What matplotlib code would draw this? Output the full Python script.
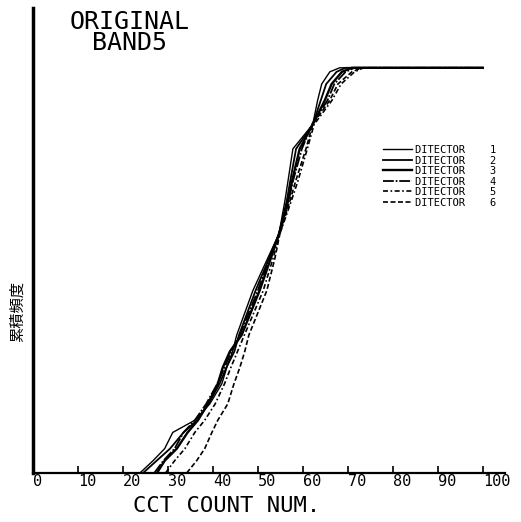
import matplotlib
matplotlib.use("Agg")
import matplotlib.pyplot as plt

# cumulative frequency levels (shared by all detectors)
levels = [0, 0.03, 0.06, 0.10, 0.13, 0.17, 0.22, 0.26, 0.30, 0.34, 0.45,
          0.53, 0.59, 0.67, 0.72, 0.80, 0.86, 0.92, 0.96, 0.99, 1.0, 1.0]

# CCT count value at each level, one list per detector
det1 = [23.8, 26.7, 29.3, 31.1, 36.0, 39.3, 42.0, 43.1, 44.4, 45.3, 48.9,
        52.2, 54.7, 56.0, 56.7, 57.8, 62.2, 63.3, 64.2, 66.0, 68.2, 100]
det2 = [24.5, 27.5, 30.5, 33.5, 36.5, 39.0, 41.5, 43.0, 44.8, 45.8, 49.5,
        52.5, 54.7, 56.4, 57.2, 58.5, 62.2, 64.0, 65.2, 67.5, 69.5, 100]
det3 = [27.6, 29.3, 32.0, 34.4, 36.7, 38.9, 41.1, 42.2, 43.8, 46.4, 50.4,
        52.9, 54.7, 56.7, 57.6, 59.3, 62.2, 64.9, 66.4, 68.7, 70.9, 100]
det4 = [27.0, 29.0, 31.5, 33.5, 36.0, 38.5, 41.0, 42.6, 44.2, 46.0, 50.0,
        52.6, 54.8, 56.8, 57.8, 59.8, 62.0, 65.5, 67.0, 69.5, 71.5, 100]
det5 = [29.5, 31.5, 33.8, 36.0, 38.2, 40.5, 42.6, 44.0, 45.5, 47.0, 51.2,
        53.4, 54.9, 57.4, 58.9, 61.0, 62.5, 66.5, 68.5, 71.5, 73.5, 100]
det6 = [34.2, 36.4, 38.2, 39.8, 41.1, 43.3, 44.7, 46.0, 47.1, 48.0, 52.0,
        53.8, 54.9, 57.1, 58.4, 60.7, 62.2, 66.0, 67.8, 70.9, 73.1, 100]

labels = ["DITECTOR    1", "DITECTOR    2", "DITECTOR    3",
          "DITECTOR    4", "DITECTOR    5", "DITECTOR    6"]
xticks = [0, 10, 20, 30, 40, 50, 60, 70, 80, 90, 100]

mono = "DejaVu Sans Mono"

fig = plt.figure(figsize=(5.21, 5.22), dpi=100)
ax = fig.add_axes([0.063, 0.094, 0.906, 0.891])

styles = [
    dict(ls="-", lw=1.0),
    dict(ls="-", lw=1.3),
    dict(ls="-", lw=1.7),
    dict(ls=(0, (6, 1, 1, 1)), lw=1.3),
    dict(ls=(0, (3, 1.5, 1, 1.5)), lw=1.2),
    dict(ls=(0, (3, 1.5)), lw=1.2),
]
for xs, lab, st in zip([det1, det2, det3, det4, det5, det6], labels, styles):
    ax.plot(xs, levels, color="black", label=lab, **st)

ax.set_xlim(0, 104.9)
ax.set_ylim(0, 1.148)
ax.set_xticks(xticks)
ax.set_xticklabels([str(t) for t in xticks], family=mono, fontsize=11)
for lbl in ax.get_xticklabels():
    lbl.set_ha("left")
ax.tick_params(axis="x", direction="in", length=5, width=1.2, pad=1)
ax.set_yticks([])
ax.spines["top"].set_visible(False)
ax.spines["right"].set_visible(False)
ax.spines["left"].set_linewidth(2.5)
ax.spines["bottom"].set_linewidth(1.6)

ax.legend(loc="upper left", bbox_to_anchor=(0.742, 0.705), frameon=False,
          prop={"family": mono, "size": 7.5}, handlelength=2.8,
          handletextpad=0.3, labelspacing=0.05, borderpad=0, borderaxespad=0)

fig.text(130 / 521, 1 - 10 / 522, "ORIGINAL\nBAND5", ha="center", va="top",
         family=mono, fontsize=18, linespacing=0.85)
fig.text(227 / 521, 1 - 506 / 522, "CCT COUNT NUM.", ha="center", va="center",
         family=mono, fontsize=16)
fig.text(17 / 521, 1 - 312 / 522, "累積頻度", rotation=90, ha="center",
         va="center", family=["Noto Sans CJK JP", "DejaVu Sans"], fontsize=11)

fig.savefig("out.png", dpi=100)
